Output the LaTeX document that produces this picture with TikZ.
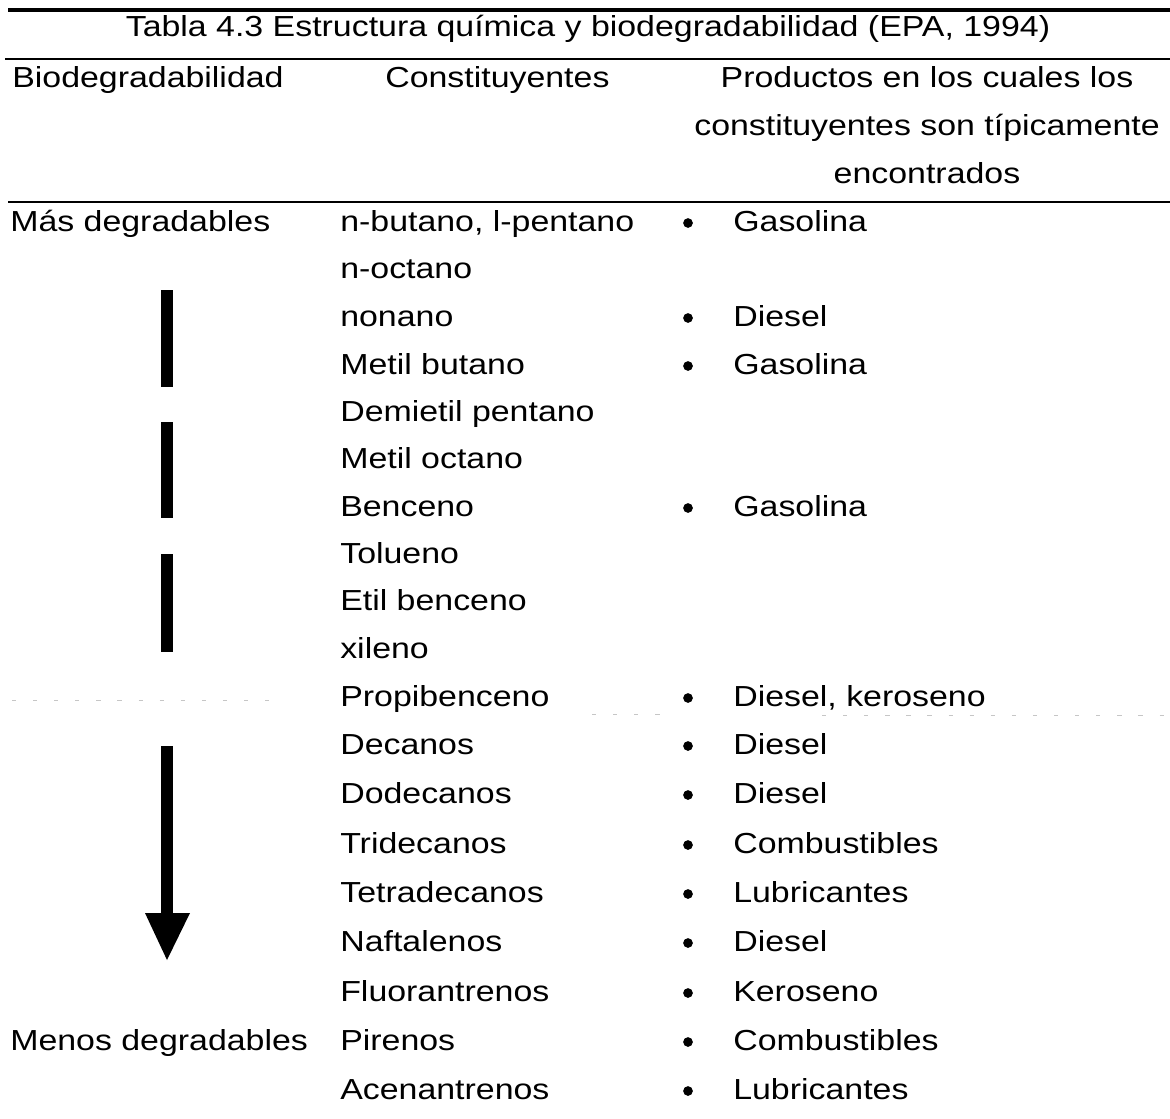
\documentclass[tikz,border=0pt]{standalone}
\usepackage{fontspec}
\setmainfont{Liberation Sans}[FakeStretch=1.17]
\usepackage{tikz}

\tikzset{
  txt/.style={font=\fontsize{20.6}{24}\selectfont, inner sep=0pt},
  bar/.style={fill=black},
  faint/.style={gray!45, line width=0.5pt, dash pattern=on 3pt off 12pt}
}

\begin{document}
\begin{tikzpicture}[x=0.025cm, y=-0.025cm]
\useasboundingbox (0,0) rectangle (1170,1118);

% rules
\draw[line width=2.3pt] (8,10) -- (1170,10);
\draw[line width=1.3pt] (5,59) -- (1170,59);
\draw[line width=1pt] (8,202) -- (1170,202);

\node[txt, anchor=base] (title) at (588,36) {Tabla 4.3 Estructura química y biodegradabilidad (EPA, 1994)};

% header
\node[txt, anchor=base west] (hbio) at (12,87) {Biodegradabilidad};
\node[txt, anchor=base west] (hcon) at (385,87) {Constituyentes};
\node[txt, anchor=base] (hpro1) at (927,87) {Productos en los cuales los};
\node[txt, anchor=base] (hpro2) at (927,135) {constituyentes son típicamente};
\node[txt, anchor=base] (hpro3) at (927,183) {encontrados};

% first column
\node[txt, anchor=base west] (mas) at (10,231) {Más degradables};
\node[txt, anchor=base west] (menos) at (10,1050) {Menos degradables};

\fill[bar] (161,290) rectangle (173,387);
\fill[bar] (161,422) rectangle (173,518);
\fill[bar] (161,554) rectangle (173,652);
\fill[bar] (161,746) rectangle (173,913);
\fill[bar] (145,913) -- (190,913) -- (167,960) -- cycle;

% faint broken line (scan)
\draw[faint] (12,700) -- (280,700);
\draw[faint] (592,714) -- (660,714);
\draw[faint] (822,715) -- (1166,715);

% constituents
\node[txt, anchor=base west] (c1) at (340,231) {n-butano, l-pentano};
\node[txt, anchor=base west] (c2) at (340,278) {n-octano};
\node[txt, anchor=base west] (c3) at (340,326) {nonano};
\node[txt, anchor=base west] (c4) at (340,374) {Metil butano};
\node[txt, anchor=base west] (c5) at (340,421) {Demietil pentano};
\node[txt, anchor=base west] (c6) at (340,468) {Metil octano};
\node[txt, anchor=base west] (c7) at (340,516) {Benceno};
\node[txt, anchor=base west] (c8) at (340,563) {Tolueno};
\node[txt, anchor=base west] (c9) at (340,610) {Etil benceno};
\node[txt, anchor=base west] (c10) at (340,658) {xileno};
\node[txt, anchor=base west] (c11) at (340,706) {Propibenceno};
\node[txt, anchor=base west] (c12) at (340,754) {Decanos};
\node[txt, anchor=base west] (c13) at (340,803) {Dodecanos};
\node[txt, anchor=base west] (c14) at (340,853) {Tridecanos};
\node[txt, anchor=base west] (c15) at (340,902) {Tetradecanos};
\node[txt, anchor=base west] (c16) at (340,951) {Naftalenos};
\node[txt, anchor=base west] (c17) at (340,1001) {Fluorantrenos};
\node[txt, anchor=base west] (c18) at (340,1050) {Pirenos};
\node[txt, anchor=base west] (c19) at (340,1099) {Acenantrenos};

% products
\filldraw (688,223) circle(4.5); \node[txt, anchor=base west] (p1) at (733,231) {Gasolina};
\filldraw (688,318) circle(4.5); \node[txt, anchor=base west] (p3) at (733,326) {Diesel};
\filldraw (688,366) circle(4.5); \node[txt, anchor=base west] (p4) at (733,374) {Gasolina};
\filldraw (688,508) circle(4.5); \node[txt, anchor=base west] (p7) at (733,516) {Gasolina};
\filldraw (688,698) circle(4.5); \node[txt, anchor=base west] (p11) at (733,706) {Diesel, keroseno};
\filldraw (688,746) circle(4.5); \node[txt, anchor=base west] (p12) at (733,754) {Diesel};
\filldraw (688,795) circle(4.5); \node[txt, anchor=base west] (p13) at (733,803) {Diesel};
\filldraw (688,845) circle(4.5); \node[txt, anchor=base west] (p14) at (733,853) {Combustibles};
\filldraw (688,894) circle(4.5); \node[txt, anchor=base west] (p15) at (733,902) {Lubricantes};
\filldraw (688,943) circle(4.5); \node[txt, anchor=base west] (p16) at (733,951) {Diesel};
\filldraw (688,993) circle(4.5); \node[txt, anchor=base west] (p17) at (733,1001) {Keroseno};
\filldraw (688,1042) circle(4.5); \node[txt, anchor=base west] (p18) at (733,1050) {Combustibles};
\filldraw (688,1091) circle(4.5); \node[txt, anchor=base west] (p19) at (733,1099) {Lubricantes};
\end{tikzpicture}
\end{document}
